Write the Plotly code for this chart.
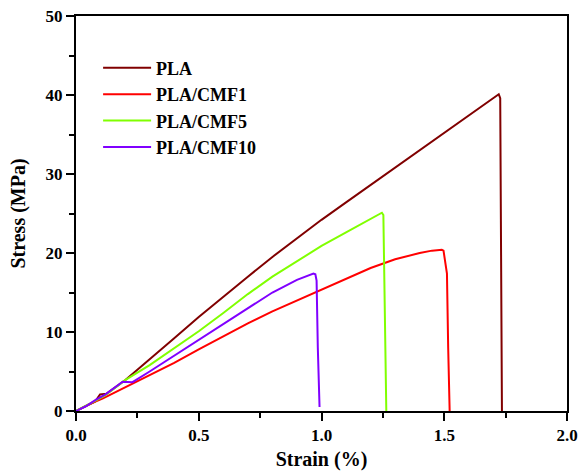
import plotly.graph_objects as go

# ---- data ----
pla_x = [0, 0.04, 0.077, 0.098, 0.125, 0.2, 0.3, 0.4, 0.5, 0.6, 0.7, 0.8, 0.9, 1.0, 1.1, 1.2, 1.3, 1.4, 1.5, 1.6, 1.7, 1.722, 1.728, 1.732, 1.735]
pla_y = [0, 0.6, 1.17, 2.1, 2.2, 3.9, 6.5, 9.2, 11.9, 14.5, 17.0, 19.5, 21.9, 24.2, 26.4, 28.6, 30.8, 33.0, 35.2, 37.4, 39.6, 40.1, 39.6, 20, 0]

cmf1_x = [0, 0.05, 0.11, 0.2, 0.3, 0.4, 0.5, 0.6, 0.7, 0.8, 0.9, 1.0, 1.1, 1.2, 1.3, 1.4, 1.45, 1.49, 1.497, 1.503, 1.511, 1.516, 1.522]
cmf1_y = [0, 0.8, 1.6, 3.0, 4.5, 6.1, 7.8, 9.5, 11.1, 12.6, 14.0, 15.4, 16.8, 18.1, 19.2, 20.0, 20.3, 20.4, 20.3, 19.0, 17.4, 8, 0]

cmf5_x = [0, 0.04, 0.08, 0.12, 0.2, 0.3, 0.4, 0.5, 0.6, 0.7, 0.8, 0.9, 1.0, 1.1, 1.2, 1.246, 1.252, 1.258, 1.264]
cmf5_y = [0, 0.6, 1.3, 2.0, 3.9, 5.8, 7.9, 10.1, 12.4, 14.8, 17.0, 19.0, 20.9, 22.6, 24.3, 25.1, 24.8, 12, 0]

cmf10_x = [0, 0.04, 0.08, 0.12, 0.19, 0.205, 0.23, 0.3, 0.4, 0.5, 0.6, 0.7, 0.8, 0.9, 0.95, 0.967, 0.975, 0.98, 0.985, 0.992]
cmf10_y = [0, 0.6, 1.4, 2.1, 3.7, 3.65, 3.65, 5.0, 7.0, 9.1, 11.1, 13.1, 15.0, 16.6, 17.2, 17.4, 17.3, 16.5, 8, 0.5]

names = ["PLA", "PLA/CMF1", "PLA/CMF5", "PLA/CMF10"]
colors = ["#800000", "#FF0000", "#80FF00", "#8000FF"]

x_ticks = [0.0, 0.5, 1.0, 1.5, 2.0]
y_ticks = [0, 10, 20, 30, 40, 50]

FONT = "Liberation Serif"

fig = go.Figure()
for xs, ys, n, c in zip([pla_x, cmf1_x, cmf5_x, cmf10_x],
                        [pla_y, cmf1_y, cmf5_y, cmf10_y], names, colors):
    fig.add_trace(go.Scatter(x=xs, y=ys, mode="lines", name=n,
                             line=dict(color=c, width=2)))

axis_common = dict(
    showline=True, linecolor="black", linewidth=2, mirror=True,
    ticks="outside", ticklen=8, tickwidth=2, tickcolor="black",
    showgrid=False, zeroline=False, automargin=False,
    tickfont=dict(family=FONT, size=17, color="black", weight="bold"),
    minor=dict(ticks="outside", ticklen=5, tickwidth=2, tickcolor="black", showgrid=False),
)

fig.update_xaxes(range=[0, 2.0], tickvals=x_ticks, ticktext=[f"{v:.1f}" for v in x_ticks],
                 minor_dtick=0.25,
                 title=dict(text="<b>Strain (%)</b>", font=dict(family=FONT, size=20, color="black")),
                 **axis_common)
fig.update_yaxes(range=[0, 50], tickvals=y_ticks, minor_dtick=5,
                 title=dict(text="<b>Stress (MPa)</b>", font=dict(family=FONT, size=20, color="black")),
                 **axis_common)

fig.update_layout(
    width=579, height=471,
    margin=dict(l=76, r=12, t=16, b=60),
    plot_bgcolor="white", paper_bgcolor="white",
    legend=dict(x=0.045, y=0.915, xanchor="left", yanchor="top",
                bgcolor="rgba(0,0,0,0)", borderwidth=0,
                font=dict(family=FONT, size=18, color="black", weight="bold"),
                tracegroupgap=0, itemwidth=48),
)

fig.write_html("out.html")
